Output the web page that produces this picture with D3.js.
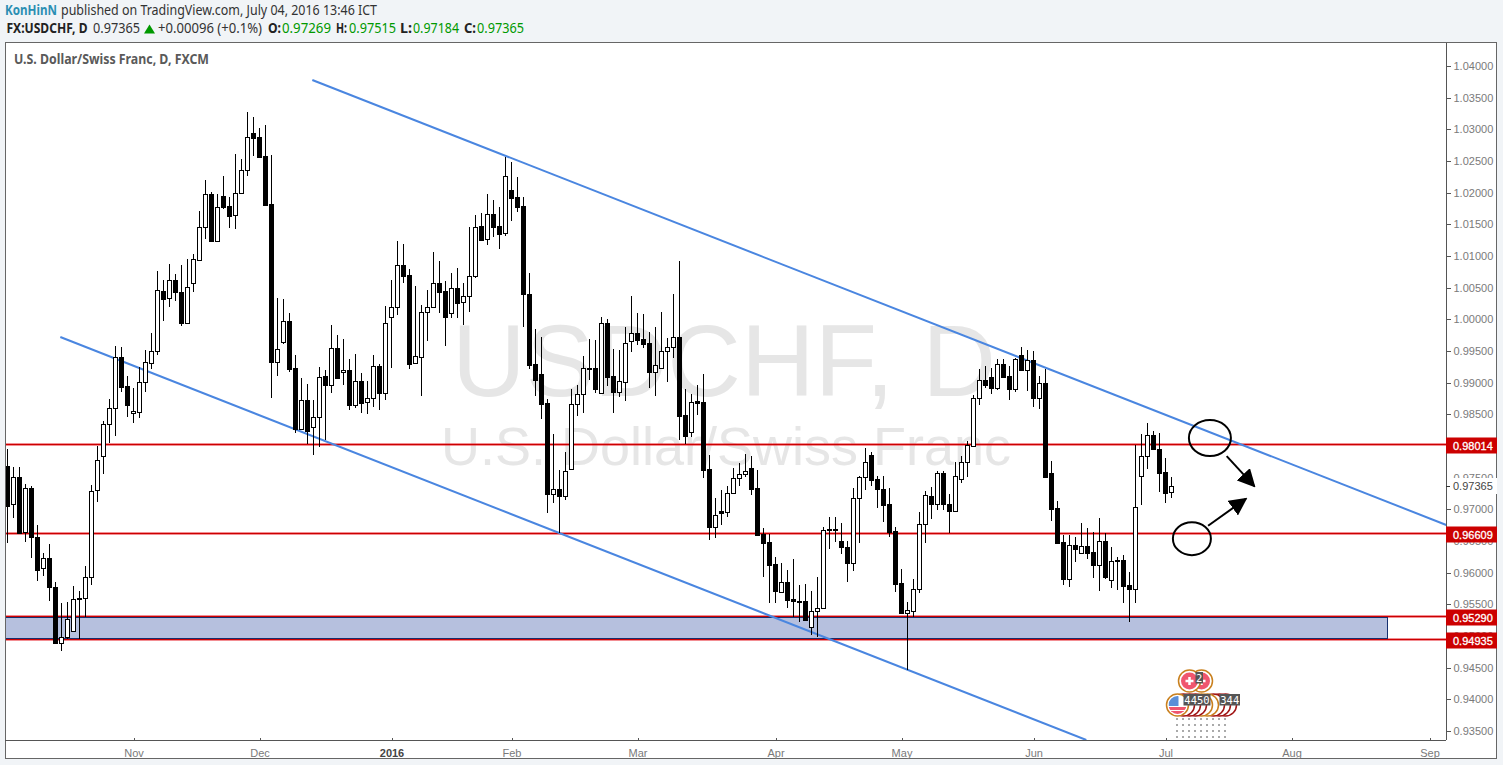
<!DOCTYPE html>
<html lang="en">
  <head>
    <meta charset="utf-8">
    <title>USDCHF, D</title>
    <style>
      html, body { margin: 0; padding: 0; background: #f1f4f7; }
      svg { display: block; }
      text { font-family: "Liberation Sans", Arial, sans-serif; }
      .head text { font-family: "Noto Sans", sans-serif; font-size: 13.5px; fill: #333; }
      .head .b { font-weight: bold; fill: #222; }
      .head .g { fill: #009900; }
      .axis text { font-size: 11px; fill: #7a7a7a; }
      .axis path, .axis line { stroke: #555; shape-rendering: crispEdges; }
      .mono { font-family: "DejaVu Sans Mono", monospace; font-size: 10.5px; fill: #fff; }
    </style>
    <script src="https://d3js.org/d3.v7.min.js"></script>
  </head>
  <body>
    <div class="viz"></div>
    <script>

    // daily candles, oldest first
    const opens = [
      0.97684,0.97085,0.97510,0.96642,0.97337,0.96563,0.96074,0.96232,0.95774,0.94890,
      0.94985,0.95079,0.95600,0.95600,0.95932,0.97305,0.97842,0.98347,0.98600,0.99405,
      0.98947,0.98521,0.98537,0.99011,0.99310,0.99500,1.00447,1.00337,1.00621,1.00432,
      0.99942,1.00574,1.00937,1.01458,1.01979,1.01237,1.01947,1.01790,1.01648,1.01995,
      1.02358,1.02942,1.02879,1.02579,1.01821,0.99326,0.99642,0.99974,0.99232,0.98269,
      0.98726,0.98300,0.98458,0.99105,0.98963,0.99547,0.99168,0.99200,0.98647,0.99026,
      0.98695,0.98758,0.99263,0.98837,1.00037,1.00195,1.00858,1.00700,0.99310,0.99405,
      1.00116,1.00195,1.00574,1.00447,1.00100,1.00495,1.00274,1.00368,1.00684,1.01474,
      1.01269,1.01663,1.01474,1.01363,1.02042,1.01932,1.01790,1.00400,0.99295,0.99137,
      0.98679,0.97242,0.97321,0.97211,0.97637,0.98663,0.98821,0.99232,0.99232,0.98837,
      0.99942,0.99105,0.98853,0.99011,0.99658,0.99785,0.99690,0.99626,0.99168,0.99232,
      0.99500,0.99563,0.99721,0.98490,0.98221,0.98711,0.98695,0.97637,0.96721,0.96974,
      0.96958,0.97258,0.97495,0.97558,0.97653,0.97337,0.96611,0.96484,0.96137,0.95695,
      0.95853,0.95584,0.95553,0.95553,0.95142,0.95395,0.95442,0.96674,0.96690,0.96500,
      0.96405,0.96153,0.97179,0.97510,0.97858,0.97479,0.97321,0.97085,0.96658,0.95837,
      0.95363,0.95395,0.95742,0.96769,0.97211,0.97085,0.97574,0.97085,0.96974,0.97479,
      0.97747,0.98000,0.98758,0.99042,0.99090,0.98916,0.99295,0.99105,0.98900,0.99437,
      0.99200,0.99358,0.98758,0.98995,0.97574,0.97021,0.96484,0.95900,0.96437,0.96311,
      0.96421,0.96327,0.96121,0.96500,0.95884,0.96200,0.96200,0.95805,0.95742,0.97526,
      0.97842,0.98174,0.97953,0.97590,0.97269]
    const highs = [
      0.97953,0.97668,0.97668,0.97400,0.97368,0.96753,0.96311,0.96453,0.95853,0.95522,
      0.95537,0.95789,0.95711,0.96105,0.97384,0.98000,0.98395,0.98742,0.99579,0.99563,
      0.99105,0.98916,0.99247,0.99516,0.99785,1.00763,1.00621,1.00874,1.00716,1.00858,
      1.00953,1.01032,1.01711,1.02200,1.02011,1.01979,1.02263,1.01932,1.02611,1.02532,
      1.03274,1.03195,1.03021,1.03069,1.02595,1.00337,1.00321,1.00100,0.99437,0.99074,
      0.98979,0.98726,0.99247,0.99200,0.99911,0.99753,0.99690,0.99374,0.99453,0.99153,
      0.99026,0.99437,0.99295,1.00211,1.00621,1.01237,1.01190,1.00795,1.00526,1.00226,
      1.00463,1.01063,1.00921,1.00605,1.00732,1.00811,1.00574,1.01458,1.01648,1.01679,
      1.01979,1.01884,1.01774,1.02563,1.02484,1.02247,1.01932,1.00732,0.99847,0.99721,
      0.98742,0.98189,0.97621,0.97905,0.98900,0.98963,0.99421,0.99690,0.99674,1.00037,
      1.00005,0.99532,0.99516,0.99879,1.00368,1.00100,1.00084,0.99800,0.99879,1.00116,
      0.99705,1.00400,1.00921,0.98900,0.98821,0.98963,0.99137,0.97858,0.97179,0.97305,
      0.97368,0.97653,0.97732,0.97874,0.97842,0.97621,0.96705,0.96611,0.96248,0.96153,
      0.96042,0.96216,0.95805,0.95821,0.95711,0.95932,0.96721,0.96879,0.96879,0.96784,
      0.96500,0.97337,0.97526,0.97969,0.97905,0.97526,0.97526,0.97337,0.96721,0.96058,
      0.95537,0.95900,0.96958,0.97290,0.97353,0.97605,0.97605,0.97242,0.97747,0.97842,
      0.98079,0.98805,0.99216,0.99263,0.99232,0.99374,0.99374,0.99263,0.99390,0.99563,
      0.99516,0.99500,0.99105,0.99216,0.97763,0.97132,0.96595,0.96595,0.96563,0.96784,
      0.96705,0.96642,0.96864,0.96627,0.96405,0.96248,0.96279,0.96011,0.98016,0.98189,
      0.98363,0.98237,0.98205,0.97811,0.97515]
    const lows = [
      0.96469,0.96864,0.96627,0.96484,0.96232,0.95868,0.95947,0.95553,0.94874,0.94763,
      0.94953,0.95079,0.94953,0.95300,0.95805,0.97116,0.97558,0.98048,0.98158,0.98853,
      0.98458,0.98363,0.98442,0.98853,0.99216,0.99437,0.99974,1.00195,1.00289,0.99895,
      0.99926,1.00432,1.00921,1.01269,1.01221,1.01221,1.01742,1.01442,1.01426,1.01995,
      1.02263,1.02579,1.02547,1.01790,0.98758,0.99105,0.99611,0.99168,0.98205,0.98253,
      0.98032,0.97858,0.97984,0.98095,0.98837,0.99074,0.98963,0.98569,0.98600,0.98521,
      0.98505,0.98616,0.98569,0.98726,0.99232,1.00069,1.00574,0.99216,0.99310,0.98790,
      0.99658,1.00195,1.00100,0.99579,1.00021,1.00021,0.99911,1.00116,1.00653,1.01237,
      1.01174,1.01300,1.01111,1.01316,1.01553,1.01695,0.99879,0.99216,0.98790,0.98426,
      0.96942,0.97100,0.96627,0.97148,0.97637,0.98474,0.98521,0.99042,0.98837,0.98837,
      0.98947,0.98521,0.98774,0.98711,0.99484,0.99595,0.99547,0.98916,0.98790,0.99232,
      0.99011,0.99390,0.98095,0.98032,0.98142,0.98490,0.97495,0.96516,0.96547,0.96753,
      0.96879,0.97258,0.97368,0.97510,0.97226,0.96579,0.95932,0.95522,0.95522,0.95679,
      0.95442,0.95300,0.95221,0.95253,0.95016,0.94985,0.95442,0.96374,0.96484,0.96295,
      0.95853,0.96026,0.96469,0.97305,0.97368,0.97021,0.96800,0.96563,0.95695,0.95348,
      0.94463,0.95300,0.95679,0.96469,0.96848,0.96990,0.96990,0.96627,0.96958,0.97416,
      0.97510,0.98000,0.98647,0.98916,0.98821,0.98884,0.99090,0.98726,0.98853,0.99200,
      0.98869,0.98616,0.98584,0.97510,0.96816,0.96469,0.95805,0.95774,0.96169,0.96295,
      0.96216,0.95916,0.95711,0.95900,0.95758,0.95726,0.95522,0.95221,0.95522,0.97069,
      0.97637,0.97953,0.97274,0.97100,0.97184]
    const closes = [
      0.97053,0.97510,0.96627,0.97337,0.96563,0.96042,0.96232,0.95774,0.94890,0.94985,
      0.95269,0.95584,0.95584,0.95932,0.97290,0.97779,0.98347,0.98600,0.99405,0.98932,
      0.98647,0.98553,0.99011,0.99326,0.99500,1.00463,1.00321,1.00621,1.00432,0.99942,
      1.00511,1.00953,1.01458,1.01979,1.01237,1.01774,1.01774,1.01632,1.01995,1.02358,
      1.02879,1.02863,1.02563,1.01805,0.99326,0.99532,0.99974,0.99216,0.98269,0.98726,
      0.98237,0.98458,0.99090,0.98963,0.99547,0.99074,0.99200,0.98647,0.99026,0.98679,
      0.98758,0.99263,0.98837,0.99942,1.00195,1.00858,1.00684,0.99295,0.99421,1.00116,
      1.00195,1.00574,1.00432,1.00037,1.00495,1.00258,1.00368,1.00684,1.01458,1.01253,
      1.01663,1.01458,1.01347,1.02263,1.01916,1.01774,1.00400,0.99279,0.99042,0.98663,
      0.97242,0.97321,0.97211,0.97605,0.98663,0.98821,0.99232,0.99216,0.98900,0.99942,
      0.99090,0.98853,0.99026,0.99626,0.99785,0.99674,0.99611,0.99168,0.99279,0.99500,
      0.99563,0.99721,0.98474,0.98158,0.98695,0.98679,0.97621,0.96721,0.96911,0.96942,
      0.97258,0.97495,0.97558,0.97605,0.97321,0.96595,0.96469,0.96121,0.95711,0.95853,
      0.95569,0.95553,0.95545,0.95253,0.95395,0.95442,0.96674,0.96682,0.96674,0.96405,
      0.96153,0.97179,0.97510,0.97747,0.97463,0.97321,0.97069,0.96642,0.95821,0.95363,
      0.95411,0.95742,0.96769,0.97226,0.97085,0.97574,0.97085,0.96974,0.97526,0.97747,
      0.98016,0.98758,0.99042,0.98963,0.98916,0.99295,0.99090,0.98900,0.99374,0.99200,
      0.99358,0.98758,0.98995,0.97510,0.97006,0.96469,0.95900,0.96437,0.96374,0.96421,
      0.96311,0.96121,0.96500,0.95932,0.96184,0.96184,0.95789,0.95742,0.97037,0.97842,
      0.98174,0.97953,0.97574,0.97258,0.97365]

    // price axis and time axis
    const priceTicks = d3.range(21, -1, -1).map(k => 0.935 + k * 0.005)
    const dateTicks = [21, 42, 64, 84, 105, 128, 149, 171, 193, 214, 237]
    const dateLabels = ["Nov", "Dec", "2016", "Feb", "Mar", "Apr", "May", "Jun", "Jul", "Aug", "Sep"]

    // drawings on the chart, as [bar index, price]
    const levels = [0.98014, 0.96609, 0.95290, 0.94935]
    const zoneEnd = 230
    const upperTrend = [[50.8, 1.03779], [239.8, 0.96753]]
    const lowerTrend = [[8.8, 0.99721], [179.8, 0.93358]]
    const rings = [[200.4, 0.98125], [197.4, 0.96537]]
    const arrows = [[[203.2, 0.97840], [207.8, 0.97366]], [[200.1, 0.96740], [206.4, 0.97167]]]
    const lastPrice = 0.97365

    // economic event flags under the chart
    const flagsFront = [197, 199]
    const flagsBack = [195, 196, 197, 198, 199, 200, 201, 202, 203]
    const eventLabels = ["2", "4450", "344"]
    const eventLabelBars = [198, 196, 202]

    const width = 1503, height = 765
    const plot = { left: 6, right: 1446, top: 43, bottom: 740 }

    const x = d3.scaleLinear().domain([0, 194]).range([7.5, 1171.5])
    const y = d3.scaleLinear().domain([0.935, 1.04]).range([731, 66])
    const lineY = d => Math.floor(y(d)) - 0.5

    const svg = d3.select(".viz").append("svg")
      .attr("width", width)
      .attr("height", height)

    svg.append("rect")
      .attr("x", 5.5).attr("y", 42.5)
      .attr("width", 1491).attr("height", 716)
      .attr("fill", "white")
      .attr("stroke", "#666")
      .style("shape-rendering", "crispEdges")

    // header lines, squeezed to the widths seen in the picture
    const head = svg.append("g").attr("class", "head")
    const headBits = [
      [5, 15, 52, "KonHinN", "k"], [61, 15, 316, "published on TradingView.com, July 04, 2016 13:46 ICT", ""],
      [6.5, 33, 81, "FX:USDCHF, D", "b"], [93, 33, 47, "0.97365", ""], [158, 33, 104, "+0.00096 (+0.1%)", ""],
      [268, 33, 13, "O:", "b"], [282, 33, 49, "0.97269", "g"], [336, 33, 11, "H:", "b"], [349, 33, 47, "0.97515", "g"],
      [400, 33, 12, "L:", "b"], [413, 33, 46, "0.97184", "g"], [464, 33, 12, "C:", "b"], [477, 33, 47, "0.97365", "g"]
    ]
    head.selectAll("text").data(headBits).join("text")
      .attr("class", d => d[4])
      .attr("x", d => d[0]).attr("y", d => d[1])
      .attr("textLength", d => d[2])
      .attr("lengthAdjust", "spacingAndGlyphs")
      .text(d => d[3])
    head.select("text.k").style("font-weight", "bold").style("fill", "#2b8fb3")
    head.append("path").attr("d", "M144 33.5 L149.5 24.5 L155 33.5 Z").attr("fill", "#009900")

    svg.append("clipPath").attr("id", "plotClip").append("rect")
      .attr("x", plot.left).attr("y", plot.top)
      .attr("width", plot.right - plot.left).attr("height", plot.bottom - plot.top)

    const chart = svg.append("g").attr("clip-path", "url(#plotClip)")

    // watermark
    chart.append("text")
      .attr("x", 724).attr("y", 396)
      .attr("text-anchor", "middle")
      .style("font-size", "102px")
      .style("fill", "#e6e6e6")
      .text("USDCHF, D")
    chart.append("text")
      .attr("x", 726).attr("y", 465)
      .attr("text-anchor", "middle")
      .style("font-size", "54px")
      .style("fill", "#e6e6e6")
      .text("U.S. Dollar/Swiss Franc")

    svg.append("text")
      .attr("x", 14).attr("y", 64)
      .attr("textLength", 195)
      .attr("lengthAdjust", "spacingAndGlyphs")
      .style("font-family", '"Noto Sans", sans-serif')
      .style("font-size", "13.5px")
      .style("font-weight", "bold")
      .style("fill", "#5a5a5a")
      .text("U.S. Dollar/Swiss Franc, D, FXCM")

    // horizontal levels, a pale band under a dark core
    const levelLine = (w, c, op) => chart.append("g").selectAll("line").data(levels).join("line")
      .attr("x1", plot.left).attr("x2", plot.right)
      .attr("y1", lineY).attr("y2", lineY)
      .attr("stroke", c).attr("stroke-width", w).attr("opacity", op)
    levelLine(3, "#e8323c", 0.55)
    levelLine(1, "#cc0000", 1)

    // supply / demand zone sits just inside its two levels
    chart.append("rect")
      .attr("x", 5)
      .attr("y", lineY(levels[2]) + 1)
      .attr("width", x(zoneEnd) - 5)
      .attr("height", lineY(levels[3]) - lineY(levels[2]) - 2)
      .attr("fill", "#b6c0de")
      .attr("stroke", "#17306f")
      .style("shape-rendering", "crispEdges")

    // trend lines
    chart.append("g").selectAll("line").data([upperTrend, lowerTrend]).join("line")
      .attr("x1", d => x(d[0][0])).attr("y1", d => y(d[0][1]))
      .attr("x2", d => x(d[1][0])).attr("y2", d => y(d[1][1]))
      .attr("stroke", "#4a86e0").attr("stroke-width", 2)

    // candles
    const bars = d3.range(opens.length)
    const candles = chart.append("g").style("shape-rendering", "crispEdges")
    candles.selectAll("line").data(bars).join("line")
      .attr("x1", i => x(i)).attr("x2", i => x(i))
      .attr("y1", i => y(highs[i])).attr("y2", i => y(lows[i]))
      .attr("stroke", "black")
    candles.selectAll("rect").data(bars).join("rect")
      .attr("x", i => x(i) - 2)
      .attr("width", 4)
      .attr("y", i => Math.round(y(Math.max(opens[i], closes[i]))) + 0.5)
      .attr("height", i => Math.max(1, Math.round(Math.abs(y(opens[i]) - y(closes[i])))))
      .attr("fill", i => closes[i] >= opens[i] ? "white" : "black")
      .attr("stroke", "black")

    // hand drawn rings and arrows
    const notes = svg.append("g")
    notes.selectAll("ellipse").data(rings).join("ellipse")
      .attr("cx", d => x(d[0])).attr("cy", d => y(d[1]))
      .attr("rx", (d, i) => i ? 19 : 21).attr("ry", (d, i) => i ? 16.5 : 18)
      .attr("fill", "none").attr("stroke", "black").attr("stroke-width", 2)
    svg.append("defs").append("marker")
      .attr("id", "head")
      .attr("viewBox", "0 0 10 10")
      .attr("refX", 9).attr("refY", 5)
      .attr("markerUnits", "userSpaceOnUse")
      .attr("markerWidth", 18).attr("markerHeight", 18)
      .attr("orient", "auto")
      .append("path").attr("d", "M0 0 L10 5 L0 10 Z").attr("fill", "black")
    notes.selectAll("line").data(arrows).join("line")
      .attr("x1", d => x(d[0][0])).attr("y1", d => y(d[0][1]))
      .attr("x2", d => x(d[1][0])).attr("y2", d => y(d[1][1]))
      .attr("stroke", "black").attr("stroke-width", 2)
      .attr("marker-end", "url(#head)")

    // event flags
    const events = svg.append("g")
    events.selectAll("line").data(flagsBack).join("line")
      .attr("x1", d => x(d) - 0.5).attr("x2", d => x(d) - 0.5)
      .attr("y1", 718).attr("y2", 739)
      .attr("stroke", "#aaa").attr("stroke-width", 2).attr("stroke-dasharray", "2,4")
    const backOrder = flagsBack.slice().reverse()
    events.selectAll("circle.back").data(backOrder).join("circle")
      .attr("class", "back")
      .attr("cx", d => x(d)).attr("cy", 705).attr("r", 11)
      .attr("fill", "white")
      .attr("stroke", d => (d === 195 || d === 199 || d === 200) ? "#c9801e" : "#a01414")
      .attr("stroke-width", 1.5)
    events.append("clipPath").attr("id", "usClip").append("circle")
      .attr("cx", x(195)).attr("cy", 705).attr("r", 9)
    const us = events.append("g").attr("clip-path", "url(#usClip)")
    us.append("rect").attr("x", x(195) - 9).attr("y", 707).attr("width", 18).attr("height", 3).attr("fill", "#f0566e")
    us.append("rect").attr("x", x(195) - 9).attr("y", 711).attr("width", 18).attr("height", 3).attr("fill", "#f0566e")
    us.append("rect").attr("x", x(195) - 9).attr("y", 696).attr("width", 10).attr("height", 10).attr("fill", "#5b8fd8")

    flagsFront.slice().reverse().forEach(d => {
      events.append("circle")
        .attr("cx", x(d)).attr("cy", 681).attr("r", 11)
        .attr("fill", "white").attr("stroke", "#c9801e").attr("stroke-width", 1.5)
      events.append("circle")
        .attr("cx", x(d)).attr("cy", 681).attr("r", 8.5)
        .attr("fill", "#f0566e")
      events.append("path")
        .attr("d", `M${x(d) - 4} 681 H${x(d) + 4} M${x(d)} 677 V685`)
        .attr("stroke", "white").attr("stroke-width", 2.5)
    })
    eventLabels.forEach((t, i) => {
      const w = t.length * 6.5 + 1
      const top = t === "2" ? 672 : 694
      events.append("rect").attr("x", x(eventLabelBars[i])).attr("y", top)
        .attr("width", w).attr("height", 11.5).attr("fill", "#555")
      events.append("text").attr("class", "mono")
        .attr("x", x(eventLabelBars[i]) + w / 2).attr("y", top + 9.5)
        .attr("text-anchor", "middle").text(t)
    })

    // axes
    const priceAxis = d3.axisRight(y).tickValues(priceTicks).tickSize(4).tickPadding(3)
      .tickFormat(d3.format(".5f"))
    svg.append("g").attr("class", "axis")
      .attr("transform", `translate(${plot.right + 0.5},0)`)
      .call(priceAxis)
      .call(g => g.select(".domain").attr("d", `M0,${plot.top}V${plot.bottom}`))

    const dateAxis = d3.axisBottom(x).tickValues(dateTicks).tickSize(-3).tickPadding(9)
      .tickFormat((d, i) => dateLabels[i])
    svg.append("g").attr("class", "axis")
      .attr("transform", `translate(0,${plot.bottom + 0.5})`)
      .call(dateAxis)
      .call(g => g.select(".domain").attr("d", `M5,0H${plot.right}`))
      .call(g => g.selectAll("text").filter(d => d === 64).style("font-weight", "bold").style("fill", "#444"))

    // price tags on the axis
    const tags = svg.append("g")
    tags.selectAll("rect").data(levels).join("rect")
      .attr("x", plot.right).attr("width", 51)
      .attr("y", d => Math.floor(y(d)) - 7.5).attr("height", 16)
      .attr("fill", "#cc0000")
    tags.selectAll("text").data(levels).join("text")
      .attr("x", 1453).attr("y", d => Math.floor(y(d)) + 4.5)
      .style("font-size", "11px").style("fill", "white")
      .style("stroke", "white").style("stroke-width", 0.3)
      .text(d3.format(".5f"))
    tags.append("rect")
      .attr("x", plot.right + 1).attr("width", 50)
      .attr("y", Math.round(y(lastPrice)) - 8).attr("height", 16)
      .attr("fill", "white")
    tags.append("line")
      .attr("x1", plot.right).attr("x2", plot.right + 4)
      .attr("y1", Math.round(y(lastPrice)) + 0.5).attr("y2", Math.round(y(lastPrice)) + 0.5)
      .attr("stroke", "#333")
    tags.append("text")
      .attr("x", 1453).attr("y", y(lastPrice) + 4)
      .style("font-size", "11px").style("fill", "#444")
      .text(d3.format(".5f")(lastPrice))

    </script>
  </body>
</html>
